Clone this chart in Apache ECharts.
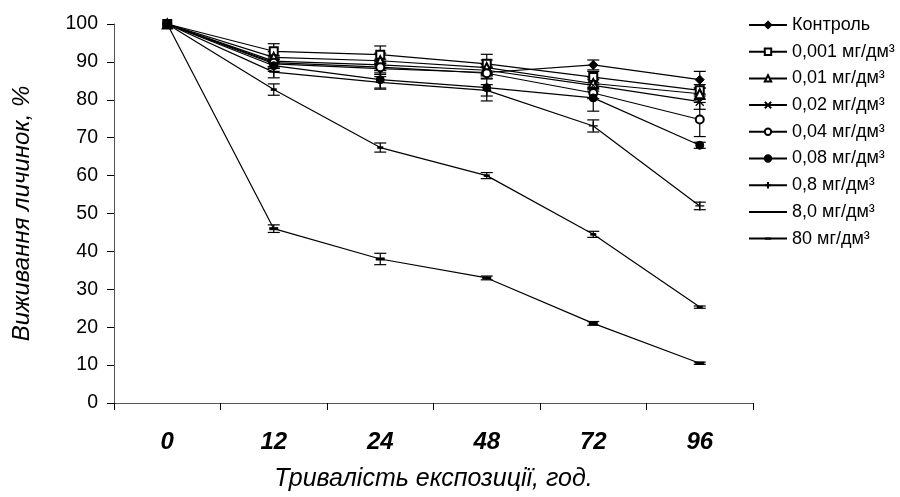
<!DOCTYPE html>
<html><head><meta charset="utf-8">
<script src="https://cdn.jsdelivr.net/npm/echarts@6/dist/echarts.min.js"></script>
<style>html,body{margin:0;padding:0;background:#fff}#c{width:900px;height:497px}</style>
</head><body><div id="c"></div>
<script>
const categories = ['0','12','24','48','72','96'];
const yTicks = [0,10,20,30,40,50,60,70,80,90,100];
const seriesNames = ['Контроль','0,001 мг/дм³','0,01 мг/дм³','0,02 мг/дм³','0,04 мг/дм³','0,08 мг/дм³','0,8 мг/дм³','8,0 мг/дм³','80 мг/дм³'];
const valControl = [100, 89.5, 88.2, 87.2, 89.2, 85.3];
const val0001 = [100, 92.8, 91.9, 89.5, 86.0, 82.5];
const val001 = [100, 91.2, 90.3, 88.5, 84.3, 81.6];
const val002 = [100, 90.2, 89.2, 87.8, 83.8, 79.5];
const val004 = [100, 89.8, 88.6, 87.0, 81.8, 74.8];
const val008 = [100, 89.0, 85.3, 83.2, 80.5, 68.0];
const val08 = [100, 87.3, 84.6, 82.5, 73.1, 52.0];
const val80a = [100, 82.7, 67.4, 60.0, 44.5, 25.3];
const val80b = [100, 46.0, 38.0, 33.0, 21.0, 10.5];
const errControl = [0, 1.2, 1.5, 1.5, 1.3, 2.2];
const err0001 = [0, 2.0, 2.3, 2.5, 1.5, 1.5];
const err001 = [0, 1.5, 2.0, 2.0, 1.5, 1.5];
const err002 = [0, 1.5, 1.5, 1.5, 1.5, 2.0];
const err004 = [0, 1.5, 1.5, 1.5, 1.5, 4.5];
const err008 = [0, 1.5, 2.5, 3.5, 3.5, 0.8];
const err08 = [0, 1.5, 1.5, 1.5, 1.6, 1.0];
const err80a = [0, 1.5, 1.2, 0.8, 0.8, 0.3];
const err80b = [0, 1.0, 1.5, 0.5, 0.5, 0.3];

const values = [valControl,val0001,val001,val002,val004,val008,val08,val80a,val80b];
const errors = [errControl,err0001,err001,err002,err004,err008,err08,err80a,err80b];
const symbols = ['diamond','emptyRect','emptyTriangle','path://M0,0L10,10M10,0L0,10','emptyCircle','circle','path://M5,0L5,10M0,5L10,5',
  'path://M0,0M10,10M2,3.7L8,3.7L8,6.3L2,6.3Z','path://M0,0M10,10M0,3.3L10,3.3L10,6.7L0,6.7Z'];
const symbolSizes = [9,8,9,8,8,8,9,10,9];

const font = 'Liberation Sans, Arial, sans-serif';
const series = [];
values.forEach((v,i)=>{
  const errData = v.map((y,k)=>[k, y-errors[i][k], y+errors[i][k]]);
  series.push({
    name: 'err'+i, type:'custom', silent:true, z:1,
    data: errData, encode:{x:0,y:[1,2]},
    renderItem: function(params, api){
      const lo = api.coord([api.value(0), api.value(1)]);
      const hi = api.coord([api.value(0), api.value(2)]);
      if (Math.abs(hi[1]-lo[1]) < 0.5) return null;
      const h = 6;
      const st = {stroke:'#000', lineWidth:1.2};
      return {type:'group', children:[
        {type:'line', shape:{x1:lo[0],y1:lo[1],x2:hi[0],y2:hi[1]}, style:st},
        {type:'line', shape:{x1:lo[0]-h,y1:lo[1],x2:lo[0]+h,y2:lo[1]}, style:st},
        {type:'line', shape:{x1:hi[0]-h,y1:hi[1],x2:hi[0]+h,y2:hi[1]}, style:st}
      ]};
    }
  });
});
values.forEach((v,i)=>{
  series.push({
    name: seriesNames[i], type:'line', data:v, z:3,
    symbol: symbols[i], symbolSize: symbolSizes[i], showAllSymbol:true,
    lineStyle:{color:'#000', width:1.2},
    itemStyle:{color:'#000', borderColor:'#000', borderWidth:(i===3||i===6)?1.3:(i>=7?0:1)},
    emphasis:{disabled:true}, animation:false
  });
});

const chart = echarts.init(document.getElementById('c'));
chart.setOption({
  animation:false,
  backgroundColor:'#fff',
  grid:{left:114, right:147, top:24, bottom:93},
  legend:{
    data: seriesNames, orient:'vertical', left:743, top:11,
    itemWidth:38, itemHeight:8, itemGap:8.7,
    textStyle:{fontFamily:font, fontSize:18, color:'#000'},
    inactiveColor:'#000'
  },
  xAxis:{
    type:'category', data:categories, boundaryGap:true,
    axisLine:{lineStyle:{color:'#555', width:1}},
    axisTick:{show:true, length:7, interval:0, lineStyle:{color:'#000'}},
    axisLabel:{fontFamily:font, fontSize:24, fontWeight:'bold', fontStyle:'italic', color:'#000', margin:27, interval:0},
    name:'Тривалість експозиції, год.', nameLocation:'middle', nameGap:64,
    nameTextStyle:{fontFamily:font, fontSize:25, fontStyle:'italic', color:'#000'}
  },
  yAxis:{
    type:'value', min:0, max:100, interval:10,
    axisLine:{show:true, lineStyle:{color:'#555', width:1}},
    axisTick:{show:true, length:7, lineStyle:{color:'#000'}},
    splitLine:{show:false},
    axisLabel:{fontFamily:font, fontSize:19.5, color:'#000', margin:16,
      formatter: (val)=> yTicks.includes(val) ? String(val) : ''},
    name:'Виживання личинок, %', nameLocation:'middle', nameGap:80,
    nameTextStyle:{fontFamily:font, fontSize:24, fontStyle:'italic', color:'#000'}
  },
  series: series
});
</script></body></html>
